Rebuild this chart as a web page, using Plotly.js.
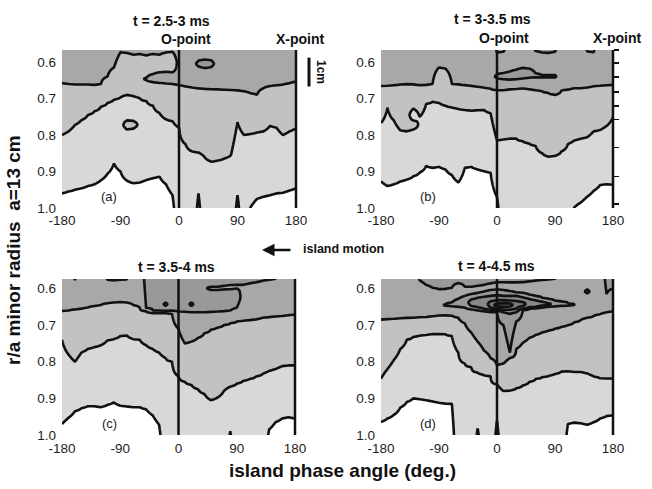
<!DOCTYPE html>
<html><head><meta charset="utf-8">
<script src="https://cdn.plot.ly/plotly-3.0.1.min.js"></script>
<style>html,body{margin:0;padding:0;background:#fff}#chart{width:652px;height:489px}</style>
</head><body><div id="chart"></div>
<script>
// ---------- data ----------
// island phase angle columns (deg.)
const phase = [-180,-170,-160,-150,-140,-130,-120,-110,-100,-90,-80,-70,-60,-50,-40,-30,-20,-10,0,10,20,30,40,50,60,70,80,90,100,110,120,130,140,150,160,170,180];
const xTickVals = [-180,-90,0,90,180];
const xTickText = ['-180','-90','0','90','180'];
const rTickVals = [0.6,0.7,0.8,0.9,1.0];
const rTickText = ['0.6','0.7','0.8','0.9','1.0'];
const chordR = [0.567,0.603,0.641,0.682,0.720,0.758,0.834,0.913,0.989];
const panelTitles = ['t = 2.5-3 ms','t = 3-3.5 ms','t = 3.5-4 ms','t = 4-4.5 ms'];
const panelTags = ['(a)','(b)','(c)','(d)'];

// contour lines: r/a position of each boundary at every phase column (null = not present)
// panel (a) t = 2.5-3 ms
const aDarkMid  = [0.658,0.660,0.662,0.662,0.662,0.663,0.660,0.640,0.615,0.573,0.575,0.580,0.578,0.582,0.578,0.580,0.574,0.572,0.664,0.667,0.670,0.672,0.673,0.674,0.675,0.676,0.677,0.678,0.680,0.686,0.690,0.672,0.666,0.664,0.662,0.658,0.654];
const aTongueTop= [null,null,null,null,null,null,null,null,null,null,null,null,null,0.643,0.633,0.628,0.627,0.628,null,null,null,null,null,null,null,null,null,null,null,null,null,null,null,null,null,null,null];
const aTongueBot= [null,null,null,null,null,null,null,null,null,null,null,null,null,0.650,0.655,0.657,0.658,0.660,null,null,null,null,null,null,null,null,null,null,null,null,null,null,null,null,null,null,null];
const aSpotTop  = [null,null,null,null,null,null,null,null,null,null,null,null,null,null,null,null,null,null,null,null,null,0.597,0.594,0.596,null,null,null,null,null,null,null,null,null,null,null,null,null];
const aSpotBot  = [null,null,null,null,null,null,null,null,null,null,null,null,null,null,null,null,null,null,null,null,null,0.612,0.616,0.613,null,null,null,null,null,null,null,null,null,null,null,null,null];
const aMidLight = [0.800,0.790,0.772,0.759,0.745,0.735,0.722,0.712,0.703,0.697,0.690,0.694,0.700,0.707,0.720,0.740,0.757,0.762,0.780,0.825,0.845,0.848,0.862,0.873,0.870,0.864,0.855,0.765,0.800,0.797,0.793,0.790,0.775,0.780,0.800,0.790,0.782];
const aLoopTop  = [null,null,null,null,null,null,null,null,null,null,0.760,0.762,null,null,null,null,null,null,null,null,null,null,null,null,null,null,null,null,null,null,null,null,null,null,null,null,null];
const aLoopBot  = [null,null,null,null,null,null,null,null,null,null,0.785,0.782,null,null,null,null,null,null,null,null,null,null,null,null,null,null,null,null,null,null,null,null,null,null,null,null,null];
const aLightWhite=[0.960,0.955,0.950,0.946,0.940,0.935,0.924,0.906,0.878,0.900,0.925,0.932,0.930,0.923,0.918,0.914,0.935,0.965,null,null,null,0.960,null,null,null,null,null,0.965,null,0.998,0.975,0.969,0.965,0.960,0.958,0.952,0.946];

// panel (b) t = 3-3.5 ms
const bTopArc   = [null,null,null,null,null,null,null,null,null,null,null,null,null,null,null,null,null,null,0.574,0.572,null,null,null,null,0.570,0.574,0.575,0.572,null,null,null,null,0.571,0.573,null,null,null];
const bDarkMid  = [0.666,0.665,0.664,0.662,0.661,0.662,0.664,0.663,0.660,0.615,0.618,0.660,0.662,0.664,0.666,0.668,0.671,0.674,0.677,0.677,0.675,0.673,0.672,0.674,0.677,0.680,0.685,0.690,0.678,0.676,0.672,0.672,0.670,0.666,0.665,0.664,0.663];
const bIslTop   = [null,null,null,null,null,null,null,null,null,null,null,null,null,null,null,null,null,null,0.634,0.630,0.627,0.622,0.617,0.618,0.632,0.636,0.637,0.637,null,null,null,null,null,null,null,null,null];
const bIslBot   = [null,null,null,null,null,null,null,null,null,null,null,null,null,null,null,null,null,null,0.645,0.647,0.648,0.647,0.645,0.643,0.641,0.641,0.641,0.641,null,null,null,null,null,null,null,null,null];
const bMidLight = [0.767,0.725,0.760,0.787,0.790,0.785,0.750,0.715,0.708,0.712,0.720,0.724,0.728,0.731,0.733,0.732,0.731,0.740,0.815,0.812,0.809,0.810,0.817,0.823,0.830,0.850,0.859,0.857,0.845,0.825,0.815,0.810,0.806,0.790,0.786,0.775,0.752];
const bHookTop  = [null,null,null,null,null,0.728,null,null,null,null,null,null,null,null,null,null,null,null,null,null,null,null,null,null,null,null,null,null,null,null,null,null,null,null,null,null,null];
const bHookBot  = [null,null,null,null,null,0.760,null,null,null,null,null,null,null,null,null,null,null,null,null,null,null,null,null,null,null,null,null,null,null,null,null,null,null,null,null,null,null];
const bLightWhite=[0.927,0.940,0.935,0.927,0.922,0.913,0.903,0.885,0.890,0.887,0.894,0.910,0.930,0.890,0.887,0.894,0.899,0.903,0.970,null,null,null,null,null,null,null,null,null,null,null,0.998,0.985,0.969,0.953,0.937,0.935,0.936];

// panel (c) t = 3.5-4 ms
const cTop4     = [null,null,0.577,null,null,null,null,0.576,0.578,0.576,0.575,null,null,0.654,0.660,0.660,0.661,0.662,0.663,0.664,0.665,0.665,0.665,0.664,0.663,0.662,0.660,0.652,0.590,0.586,0.583,0.579,0.576,0.573,null,null,null];
const cSlivTop  = [null,null,null,null,null,null,null,null,null,null,null,null,null,null,null,null,null,null,null,null,null,null,null,0.596,0.595,0.594,0.592,0.590,null,null,null,null,null,null,null,null,null];
const cSlivBot  = [null,null,null,null,null,null,null,null,null,null,null,null,null,null,null,null,null,null,null,null,null,null,null,0.603,0.603,0.602,0.601,0.600,null,null,null,null,null,null,null,null,null];
const cDashTop  = [null,null,null,null,null,null,null,null,null,null,null,null,null,null,null,null,0.639,null,null,null,0.639,null,null,null,null,null,null,null,null,null,null,null,null,null,null,null,null];
const cDashBot  = [null,null,null,null,null,null,null,null,null,null,null,null,null,null,null,null,0.647,null,null,null,0.647,null,null,null,null,null,null,null,null,null,null,null,null,null,null,null,null];
const cDarkMid  = [0.662,0.660,0.657,0.655,0.652,0.648,0.645,0.640,0.638,0.637,0.638,0.645,0.652,0.662,0.666,0.666,0.667,0.668,0.710,0.750,0.745,0.735,0.722,0.712,0.706,0.700,0.695,0.690,0.688,0.686,0.684,0.680,0.678,0.676,0.675,0.673,0.672];
const cMidLight = [0.740,0.780,0.800,0.775,0.765,0.760,0.755,0.742,0.738,0.730,0.728,0.738,0.740,0.755,0.765,0.775,0.790,0.800,0.840,0.855,0.863,0.875,0.888,0.905,0.898,0.880,0.868,0.860,0.852,0.847,0.840,0.833,0.825,0.820,0.812,0.810,0.810];
const cLightWhite=[0.970,0.953,0.935,0.927,0.921,0.921,0.924,0.918,0.911,0.920,0.922,0.924,0.924,0.930,0.946,0.972,null,null,null,null,null,null,null,null,null,null,0.990,null,null,null,null,null,0.985,0.965,0.955,0.951,0.955];

// panel (d) t = 4-4.5 ms
const dTop4     = [null,null,null,null,null,null,0.578,0.590,0.598,0.602,0.602,0.598,0.585,0.595,0.596,0.593,0.590,0.587,0.584,0.584,0.584,0.584,0.583,0.581,0.579,0.577,0.575,0.573,null,null,null,null,null,null,null,0.615,0.600];
const dRing1Top = [null,null,null,null,null,null,null,null,null,null,0.643,0.638,0.628,0.620,0.615,0.612,0.608,0.604,0.602,0.604,0.607,0.610,0.612,0.617,0.620,0.625,0.629,0.633,0.636,0.640,0.643,null,0.603,null,null,null,null];
const dRing1Bot = [null,null,null,null,null,null,null,null,null,null,0.646,0.648,0.650,0.652,0.656,0.659,0.661,0.663,0.665,0.700,0.775,0.690,0.660,0.655,0.653,0.651,0.649,0.648,0.647,0.646,0.645,null,0.613,null,null,null,null];
const dRing2Top = [null,null,null,null,null,null,null,null,null,null,null,null,null,null,0.630,0.625,0.622,0.620,0.618,0.620,0.620,0.620,0.624,0.628,0.632,0.636,0.640,null,null,null,null,null,null,null,null,null,null];
const dRing2Bot = [null,null,null,null,null,null,null,null,null,null,null,null,null,null,0.648,0.652,0.655,0.658,0.660,0.665,0.668,0.665,0.655,0.652,0.650,0.647,0.645,null,null,null,null,null,null,null,null,null,null];
const dRing3Top = [null,null,null,null,null,null,null,null,null,null,null,null,null,null,null,null,null,0.635,0.632,0.632,0.633,0.634,0.637,null,null,null,null,null,null,null,null,null,null,null,null,null,null];
const dRing3Bot = [null,null,null,null,null,null,null,null,null,null,null,null,null,null,null,null,null,0.652,0.655,0.658,0.658,0.655,0.648,null,null,null,null,null,null,null,null,null,null,null,null,null,null];
const dRing4Top = [null,null,null,null,null,null,null,null,null,null,null,null,null,null,null,null,null,null,0.641,0.640,0.641,null,null,null,null,null,null,null,null,null,null,null,null,null,null,null,null];
const dRing4Bot = [null,null,null,null,null,null,null,null,null,null,null,null,null,null,null,null,null,null,0.649,0.650,0.649,null,null,null,null,null,null,null,null,null,null,null,null,null,null,null,null];
const dDarkMid  = [0.685,0.684,0.683,0.682,0.681,0.680,0.679,0.678,0.676,0.674,0.673,0.674,0.680,0.695,0.720,0.745,0.770,0.790,0.810,0.805,0.790,0.765,0.748,0.735,0.727,0.720,0.715,0.710,0.705,0.700,0.692,0.686,0.680,0.675,0.670,0.665,0.660];
const dMidLight = [0.846,0.820,0.795,0.765,0.740,0.732,0.728,0.726,0.724,0.724,0.725,0.730,0.775,0.805,0.815,0.830,0.836,0.840,0.862,0.880,0.878,0.872,0.864,0.855,0.847,0.842,0.838,0.833,0.826,0.826,0.828,0.828,0.832,0.840,0.845,0.846,0.846];
const dLightWhite=[0.964,0.955,0.945,0.925,0.910,0.900,0.902,0.905,0.908,0.912,0.914,0.915,null,null,null,0.982,null,null,0.960,null,null,null,null,null,null,null,null,null,null,0.970,0.966,0.968,0.972,0.965,0.955,0.948,0.946];

// each boundary: band above / band below (0 white ... 7 darkest)
const panels = [
  {lines:[[aDarkMid,3,2],[aTongueTop,2,3],[aTongueBot,3,2],[aSpotTop,3,4],[aSpotBot,4,3],[aMidLight,2,1],[aLoopTop,1,2],[aLoopBot,2,1],[aLightWhite,1,0]]},
  {lines:[[bTopArc,4,3],[bDarkMid,3,2],[bIslTop,3,4],[bIslBot,4,3],[bMidLight,2,1],[bHookTop,2,1],[bHookBot,1,2],[bLightWhite,1,0]]},
  {lines:[[cTop4,4,3],[cSlivTop,4,3],[cSlivBot,3,4],[cDashTop,4,5],[cDashBot,5,4],[cDarkMid,3,2],[cMidLight,2,1],[cLightWhite,1,0]]},
  {lines:[[dTop4,4,3],[dRing1Top,3,4],[dRing1Bot,4,3],[dRing2Top,4,5],[dRing2Bot,5,4],[dRing3Top,5,6],[dRing3Bot,6,5],[dRing4Top,6,7],[dRing4Bot,7,6],[dDarkMid,3,2],[dMidLight,2,1],[dLightWhite,1,0]]}
];

// ---------- build contour tables ----------
const Y0 = 0.55, Y1 = 1.04;
const rows = [];
for (let k = 0; Y0 + k*0.0025 <= Y1 + 1e-9; k++) rows.push(+(Y0 + k*0.0025).toFixed(4));

function buildZ(lines){
  const z = rows.map(() => new Array(phase.length).fill(0));
  for (let j = 0; j < phase.length; j++){
    const ls = lines.filter(l => l[0][j] != null).map(l => ({y:l[0][j], a:l[1], b:l[2]})).sort((p,q) => p.y - q.y);
    const kn = [[Y0 - 0.02, ls[0].a]];
    ls.forEach((l,i) => {
      kn.push([l.y, (l.a + l.b)/2]);
      if (i < ls.length - 1) { const n = ls[i+1]; kn.push([(l.y + n.y)/2, (l.b + n.a)/2]); }
    });
    kn.push([Y1 + 0.02, ls[ls.length-1].b]);
    for (let i = 0; i < rows.length; i++){
      const r = rows[i];
      let k = 0; while (k < kn.length - 2 && kn[k+1][0] <= r) k++;
      const [y0,v0] = kn[k], [y1,v1] = kn[k+1];
      z[i][j] = v0 + (v1 - v0) * (r - y0) / (y1 - y0);
    }
  }
  return z;
}

const grays = [[0,'#ffffff'],[1/7,'#d8d8d8'],[2/7,'#c2c2c2'],[3/7,'#a8a8a8'],[4/7,'#999999'],[5/7,'#888888'],[6/7,'#797979'],[1,'#6a6a6a']];
const axIds = [['x','y'],['x2','y2'],['x3','y3'],['x4','y4']];

const traces = panels.map((p,i) => ({
  type:'contour', x: phase, y: rows, z: buildZ(p.lines),
  xaxis: axIds[i][0], yaxis: axIds[i][1],
  autocontour:false,
  contours:{start:0.5, end:6.5, size:1, coloring:'fill', showlines:true},
  line:{color:'#111', width:2.6, smoothing:0},
  colorscale: grays, showscale:false, hoverinfo:'skip'
}));
traces.push({type:'scatter', x:[], y:[], xaxis:'x2', yaxis:'y5', showlegend:false, hoverinfo:'skip'});

// ---------- layout ----------
const W = 652, H = 489;
const fx = px => px / W, fy = py => 1 - py / H;
const FONT = 'Liberation Sans, Arial, sans-serif';
const tickFont = {family:FONT, size:13.5, color:'#1e1e1e'};

function xAx(l, r, yid, standoff){
  return {domain:[fx(l), fx(r)], range:[-180,180], anchor:yid, tickvals:xTickVals, ticktext:xTickText,
    ticks:'', showgrid:false, zeroline:false, showline:false, tickfont:tickFont, ticklabelstandoff:standoff, fixedrange:true};
}
function yAx(t, b, top, xid){
  return {domain:[fy(b), fy(t)], range:[1.0, top], anchor:xid, tickvals:rTickVals, ticktext:rTickText,
    ticks:'', showgrid:false, zeroline:false, showline:false, tickfont:tickFont, ticklabelstandoff:5, fixedrange:true};
}

const layout = {
  width:W, height:H, margin:{l:0,r:0,t:0,b:0}, showlegend:false,
  paper_bgcolor:'#ffffff', plot_bgcolor:'#ffffff',
  font:{family:FONT, color:'#111'},
  xaxis: xAx(62, 296, 'y', 2),
  yaxis: yAx(50, 208, 0.567, 'x'),
  xaxis2: xAx(381, 613, 'y2', 2),
  yaxis2: yAx(50, 208, 0.567, 'x2'),
  xaxis3: xAx(62, 295, 'y3', 3),
  yaxis3: yAx(279, 435, 0.574, 'x3'),
  xaxis4: xAx(381, 613, 'y4', 3),
  yaxis4: yAx(279, 435, 0.574, 'x4'),
  yaxis5: {overlaying:'y2', anchor:'x2', side:'right', range:[1.0,0.567], tickvals:chordR, ticks:'outside', ticklen:5, tickwidth:1.5, tickcolor:'#111',
           showticklabels:false, showgrid:false, zeroline:false, showline:false, fixedrange:true},
  shapes:[], annotations:[]
};

axIds.forEach(([xa,ya]) => {
  // O-point line at phase 0 and X-point border at phase 180
  layout.shapes.push({type:'line', xref:xa, x0:0, x1:0, yref:ya+' domain', y0:0, y1:1, line:{color:'#111', width:2.5}});
  layout.shapes.push({type:'line', xref:xa+' domain', x0:1, x1:1, yref:ya+' domain', y0:0, y1:1, line:{color:'#111', width:2.5}});
});

// 1 cm scale bar next to panel (a)
layout.shapes.push({type:'line', xref:'paper', x0:fx(309), x1:fx(309), yref:'y', y0:0.588, y1:0.667, line:{color:'#111', width:3}});

const titlePos = [[172,21],[492.5,19],[176,266.5],[496,266]];
titlePos.forEach((p,i) => {
  layout.annotations.push({text:'<b>'+panelTitles[i]+'</b>', xref:'paper', yref:'paper', x:fx(p[0]), y:fy(p[1]), showarrow:false, xanchor:'center', yanchor:'middle', font:{family:FONT, size:14, color:'#111'}});
});
[[0,39,185.5,300.5],[1,38,503.5,617]].forEach(([i,py,ox,xx]) => {
  layout.annotations.push({text:'<b>O-point</b>', xref:'paper', yref:'paper', x:fx(ox), y:fy(py), showarrow:false, xanchor:'center', yanchor:'middle', font:{family:FONT, size:14, color:'#111'}});
  layout.annotations.push({text:'<b>X-point</b>', xref:'paper', yref:'paper', x:fx(xx), y:fy(py), showarrow:false, xanchor:'center', yanchor:'middle', font:{family:FONT, size:14, color:'#111'}});
});
axIds.forEach(([xa,ya],i) => {
  layout.annotations.push({text:panelTags[i], xref:xa, yref:ya, x:-107, y:0.968, showarrow:false, xanchor:'center', yanchor:'middle', font:{family:FONT, size:13, color:'#222'}});
});
layout.annotations.push({text:'<b>1cm</b>', xref:'paper', yref:'paper', x:fx(321), y:fy(72), textangle:90, showarrow:false, xanchor:'center', yanchor:'middle', font:{family:FONT, size:12, color:'#111'}});
layout.annotations.push({text:'', xref:'paper', yref:'paper', x:fx(262), y:fy(250), ax:30, ay:0, showarrow:true, arrowhead:2, arrowsize:1, arrowwidth:2.5, arrowcolor:'#111'});
layout.annotations.push({text:'<b>island motion</b>', xref:'paper', yref:'paper', x:fx(343.5), y:fy(249), showarrow:false, xanchor:'center', yanchor:'middle', font:{family:FONT, size:12.5, color:'#111'}});
layout.annotations.push({text:'<b>r/a minor radius\u00a0\u00a0a=13 cm</b>', xref:'paper', yref:'paper', x:fx(13), y:fy(250), textangle:-90, showarrow:false, xanchor:'center', yanchor:'middle', font:{family:FONT, size:19, color:'#111'}});
layout.annotations.push({text:'<b>island phase angle (deg.)</b>', xref:'paper', yref:'paper', x:fx(342.5), y:fy(470), showarrow:false, xanchor:'center', yanchor:'middle', font:{family:FONT, size:19, color:'#111'}});

Plotly.newPlot('chart', traces, layout, {staticPlot:true, displayModeBar:false});
</script>
</body></html>
